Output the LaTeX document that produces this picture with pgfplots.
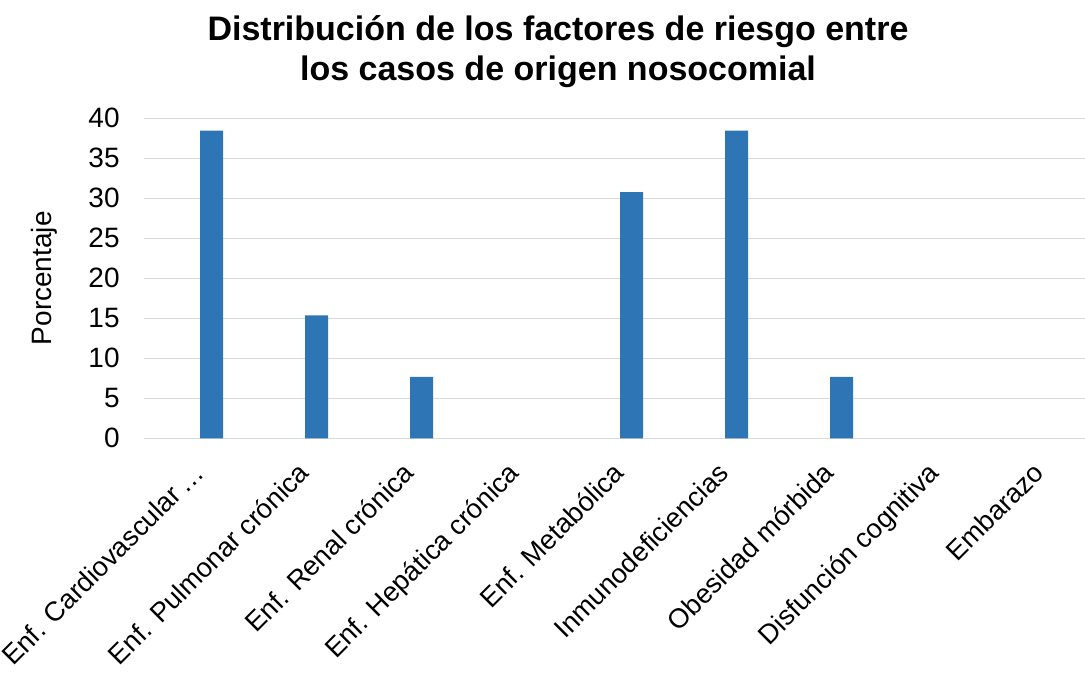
\documentclass[border=0pt]{standalone}
\usepackage{fontspec}
\setmainfont{Liberation Sans}
\usepackage{pgfplots}
\pgfplotsset{compat=1.18}
\definecolor{barblue}{HTML}{2E75B6}
\definecolor{gridgray}{HTML}{D9D9D9}
\begin{document}
\begin{tikzpicture}
\path[use as bounding box] (0,0) rectangle (542.5pt,339pt);
\begin{axis}[
  at={(72pt,119.85pt)}, anchor=south west,
  scale only axis, width=470.5pt, height=160pt,
  xmin=-0.643, xmax=8.319, ymin=0, ymax=40,
  ytick={0,5,...,40},
  xtick={0,...,8},
  xticklabels={Enf. Cardiovascular\,…,Enf. Pulmonar crónica,Enf. Renal crónica,Enf. Hepática crónica,Enf. Metabólica,Inmunodeficiencias,Obesidad mórbida,Disfunción cognitiva,Embarazo},
  xticklabel style={xshift=-10pt, yshift=-11pt, rotate=45, anchor=north east, inner sep=0pt, font=\fontsize{13.6}{16}\selectfont},
  yticklabel style={font=\fontsize{14}{16}\selectfont, inner sep=0pt, xshift=-12pt},
  /pgf/number format/assume math mode=true,
  major tick length=0pt,
  axis line style={draw=none},
  ymajorgrids, grid style={gridgray, line width=0.75pt},
  axis x line*=bottom,
  x axis line style={draw=gridgray, line width=0.75pt},
  ylabel={Porcentaje},
  every axis y label/.style={at={(-50pt,80pt)}, rotate=90, anchor=center, font=\fontsize{14}{16}\selectfont},
  ybar, bar width=11.5pt,
  clip=false,
]
\addplot[fill=barblue, draw=none] coordinates {
(0,38.46) (1,15.38) (2,7.69) (4,30.77) (5,38.46) (6,7.69)};
\end{axis}
\node[align=center, font=\bfseries\fontsize{17}{20}\selectfont] at (279pt,313pt) {Distribución de los factores de riesgo entre\\los casos de origen nosocomial};
\end{tikzpicture}
\end{document}
